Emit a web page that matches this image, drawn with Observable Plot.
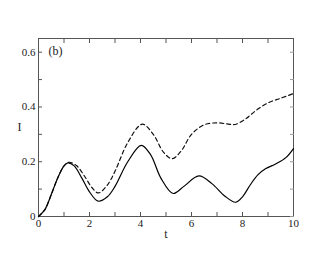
<!DOCTYPE html>
<html><head><meta charset="utf-8">
<script src="https://cdn.jsdelivr.net/npm/d3@7"></script>
<script src="https://cdn.jsdelivr.net/npm/@observablehq/plot@0.6"></script>
<style>body{margin:0;background:#fff} svg text{font-family:"Liberation Serif","DejaVu Serif",serif !important}</style>
</head><body><div id="chart"></div>
<script>
const solidT = [0,0.25,0.5,0.75,1.0,1.15,1.4,1.7,2.0,2.34,2.7,3.0,3.5,4.03,4.4,4.8,5.28,5.7,6.29,6.8,7.3,7.73,8.0,8.3,8.6,8.9,9.3,9.7,10];
const solidI = [0,0.025,0.08,0.14,0.185,0.196,0.185,0.14,0.09,0.056,0.072,0.11,0.2,0.26,0.225,0.14,0.084,0.11,0.148,0.12,0.075,0.052,0.072,0.115,0.152,0.174,0.192,0.215,0.248];
const dashT = [0,0.25,0.5,0.75,1.0,1.2,1.5,1.8,2.1,2.35,2.7,3.0,3.5,4.07,4.5,4.9,5.24,5.6,6.0,6.5,7.0,7.4,7.7,8.1,8.5,9.0,9.5,10];
const dashI = [0,0.025,0.08,0.14,0.185,0.198,0.185,0.148,0.105,0.086,0.115,0.165,0.27,0.337,0.3,0.235,0.211,0.24,0.3,0.335,0.342,0.338,0.336,0.355,0.385,0.415,0.432,0.449];
const xMajor = [0,2,4,6,8,10];
const xMinor = d3.range(0, 11, 1);
const yMajor = [0,0.2,0.4,0.6];
const yMinor = [0,0.1,0.2,0.3,0.4,0.5,0.6];

const solid = solidT.map((t,i)=>({t, I: solidI[i]}));
const dashed = dashT.map((t,i)=>({t, I: dashI[i]}));
const fmt = d => d === 0 ? "0" : String(d);
const ff = "Liberation Serif";

const chart = Plot.plot({
  width: 330, height: 255,
  marginLeft: 38, marginRight: 37, marginTop: 38, marginBottom: 39,
  style: {fontFamily: "'Liberation Serif', serif", fontSize: "11px", color: "#222", background: "#fff"},
  x: {domain: [0, 10]},
  y: {domain: [0, 0.65]},
  marks: [
    Plot.frame({stroke: "#555"}),
    Plot.axisX({anchor: "bottom", ticks: xMinor, tickSize: -4, tickFormat: () => "", stroke: "#555", label: null}),
    Plot.axisX({anchor: "top", ticks: xMinor, tickSize: -4, tickFormat: () => "", stroke: "#555", label: null}),
    Plot.axisX({anchor: "bottom", ticks: xMajor, tickSize: 0, tickPadding: 3, tickFormat: fmt, label: null, fontSize: 11, fontFamily: ff}),
    Plot.axisY({anchor: "left", ticks: yMinor, tickSize: -4, tickFormat: () => "", stroke: "#555", label: null}),
    Plot.axisY({anchor: "right", ticks: yMinor, tickSize: -4, tickFormat: () => "", stroke: "#999", label: null}),
    Plot.axisY({anchor: "left", ticks: yMajor, tickSize: 0, tickPadding: 3, tickFormat: fmt, label: null, fontSize: 11, fontFamily: ff}),
    Plot.text(["t"], {frameAnchor: "bottom", dy: 21, fontSize: 12, fontFamily: ff}),
    Plot.text(["I"], {frameAnchor: "left", dx: -21, fontSize: 12, fontFamily: ff}),
    Plot.text(["(b)"], {frameAnchor: "top-left", dx: 10, dy: 8, fontSize: 12, fontFamily: ff}),
    Plot.line(dashed, {x: "t", y: "I", stroke: "#111", strokeWidth: 1.2, strokeDasharray: "4,3", curve: "catmull-rom"}),
    Plot.line(solid, {x: "t", y: "I", stroke: "#000", strokeWidth: 1.2, curve: "catmull-rom"})
  ]
});
document.getElementById("chart").appendChild(chart);
</script></body></html>
